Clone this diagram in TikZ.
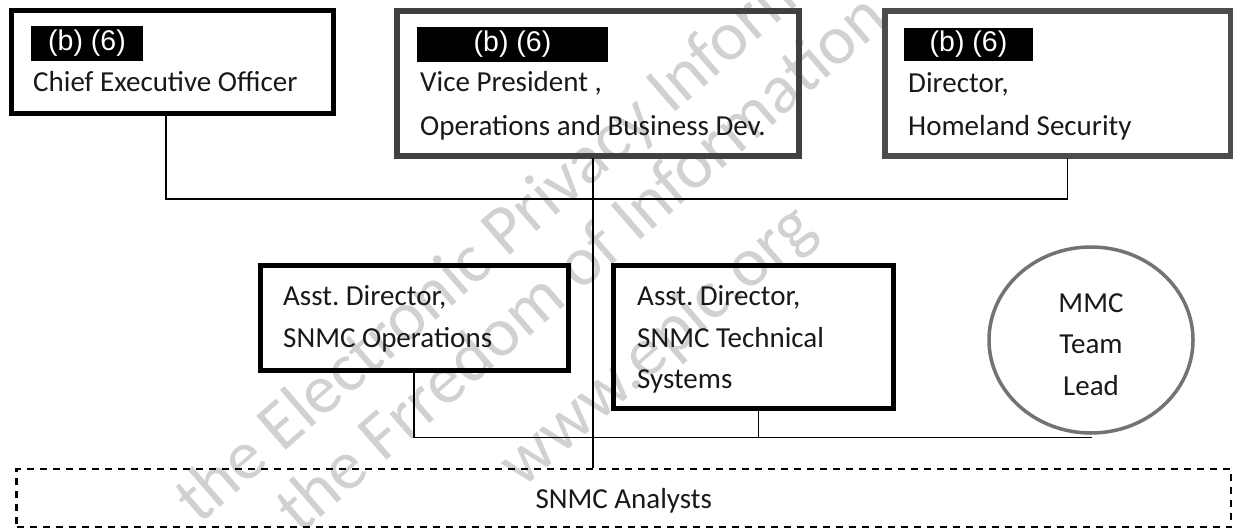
\documentclass[tikz,border=0pt]{standalone}
\usepackage{fontspec}
\setmainfont{Carlito}
\newfontfamily\redactfont{Liberation Sans}
\usetikzlibrary{shapes.geometric}
\frenchspacing

\tikzset{
  orgbox/.style={draw, line width=5pt, inner sep=0pt},
  lbl/.style={anchor=base west, inner sep=0pt, text=black!90,
              font=\fontsize{29}{35}\selectfont},
  clbl/.style={lbl, anchor=base},
  redact/.style={fill=black, text=white, inner sep=0pt,
                 font=\redactfont\fontsize{28.5}{34}\selectfont},
  wm/.style={anchor=base west, rotate=41, inner sep=0pt, text=black!18,
             font=\fontsize{70}{84}\selectfont},
  conn/.style={line width=1.4pt, line cap=rect}
}

\begin{document}
\begin{tikzpicture}[x=1pt, y=-1pt]
\useasboundingbox (0,0) rectangle (1233,529);
\fill[white] (0,0) rectangle (1233,529);

% background watermark lettering
\begin{scope}
  \clip (0,0) rectangle (1233,529);
  \node[wm] (wm1) at (199,526) {the Electronic Privacy Information};
  \node[wm] (wm2) at (300,536) {the Frredom of Information};
  \node[wm] (wm3) at (522,490) {www.epic.org};
\end{scope}

% top row
\node[orgbox, minimum width=322pt, minimum height=102.5pt] (ceo) at (172,62.25) {};
\node[redact, minimum width=112pt, minimum height=35pt] (ceo-r) at (87,43.5) {(b) (6)};
\node[lbl] (ceo-t) at (33,92) {Chief Executive Officer};

\node[orgbox, draw=black!75, line width=6pt, minimum width=402pt, minimum height=144.5pt] (vp) at (597.5,83.75) {};
\node[redact, minimum width=191pt, minimum height=35pt] (vp-r) at (512.5,44.5) {(b) (6)};
\node[lbl] (vp-t1) at (420,92) {Vice President ,};
\node[lbl] (vp-t2) at (420,136) {Operations and Business Dev.};

\node[orgbox, draw=black!70, line width=6pt, minimum width=345.5pt, minimum height=144.5pt] (dir) at (1057.75,83.75) {};
\node[redact, minimum width=129pt, minimum height=33pt] (dir-r) at (968.5,44.5) {(b) (6)};
\node[lbl] (dir-t1) at (908,93) {Director,};
\node[lbl] (dir-t2) at (908,136) {Homeland Security};

% second row
\node[orgbox, minimum width=308pt, minimum height=105.5pt] (ops) at (414,317.75) {};
\node[lbl] (ops-t1) at (283,305) {Asst. Director,};
\node[lbl] (ops-t2) at (283,347) {SNMC Operations};

\node[orgbox, minimum width=280.5pt, minimum height=143pt] (tech) at (753.25,336.5) {};
\node[lbl] (tech-t1) at (637,305) {Asst. Director,};
\node[lbl] (tech-t2) at (637,347) {SNMC Technical};
\node[lbl] (tech-t3) at (637,388) {Systems};

\node[ellipse, draw=black!55, line width=3.5pt, inner sep=0pt,
      minimum width=204pt, minimum height=186pt] (mmc) at (1091,340) {};
\node[clbl] (mmc-t1) at (1091,312) {MMC};
\node[clbl] (mmc-t2) at (1091,353) {Team};
\node[clbl] (mmc-t3) at (1091,395) {Lead};

% bottom band
\node[draw, dashed, dash pattern=on 7pt off 6pt, line width=2.6pt, inner sep=0pt,
      minimum width=1214.5pt, minimum height=58pt,
      text height=20pt, text depth=0pt,
      font=\fontsize{29}{35}\selectfont, text=black!90] (ana) at (623.75,498) {SNMC Analysts};

% connectors
\coordinate (dirfoot) at ([xshift=10pt]dir.south);
\coordinate (topbus) at ([yshift=-40pt]dirfoot);
\draw[conn] ([xshift=-6pt]ceo.south) |- (topbus) -- (dirfoot);

\coordinate (vpfoot) at ([xshift=-4.5pt]vp.south);
\draw[conn] (vpfoot) -- (vpfoot |- ana.north);

\coordinate (lowbus) at ([yshift=-3pt]mmc.south);
\draw[conn] (ops.south) |- (lowbus);
\coordinate (techfoot) at ([xshift=5pt]tech.south);
\draw[conn] (techfoot) -- (techfoot |- lowbus);
\end{tikzpicture}
\end{document}
